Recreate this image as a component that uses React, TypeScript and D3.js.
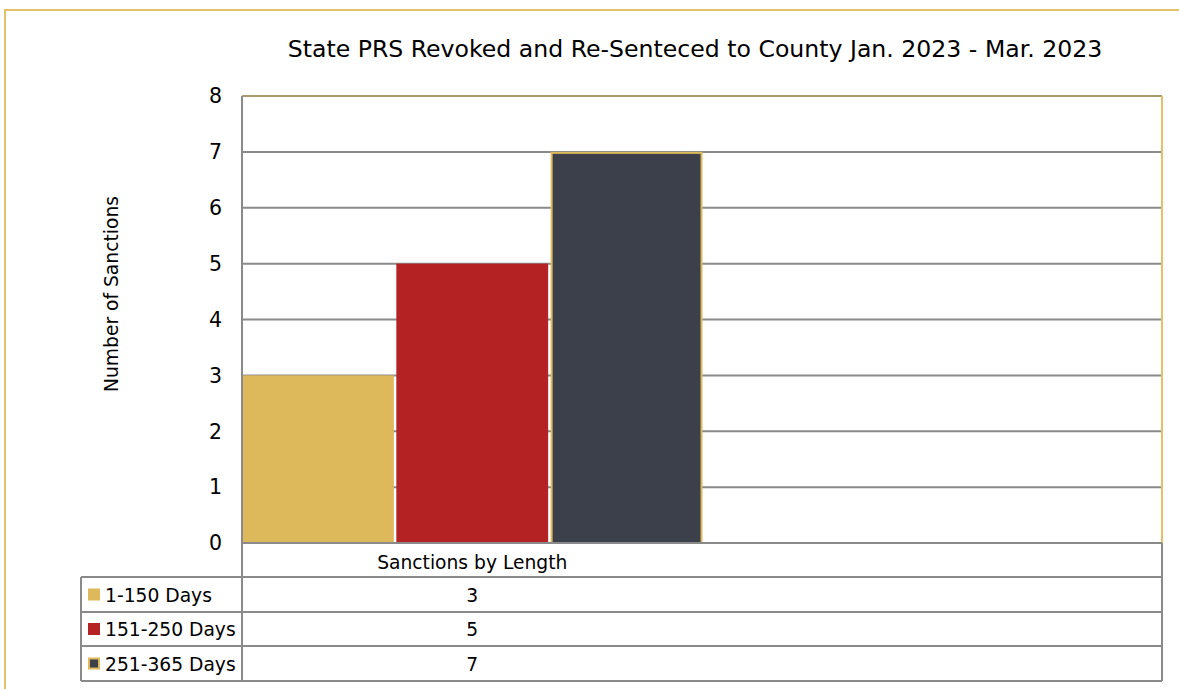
import React from "react";
import * as d3 from "d3";

const TITLE = "State PRS Revoked and Re-Senteced to County Jan. 2023 - Mar. 2023";
const Y_LABEL = "Number of Sanctions";
const CATEGORY = "Sanctions by Length";
const SERIES = ["1-150 Days", "151-250 Days", "251-365 Days"];
const VALUES = [3, 5, 7];
const COLORS = ["#DDB95C", "#B52224", "#3C404B"];
const Y_TICKS = [0, 1, 2, 3, 4, 5, 6, 7, 8];

const W = 1179;
const H = 689;
const PL = 242;
const PR = 1162;
const PT = 96;
const PB = 543;
const GROUP_END = 702.5;
const ROWS = [543, 577, 612, 646, 681];
const TABLE_LEFT = 81;
const FONT = "Tahoma, 'DejaVu Sans', Verdana, sans-serif";
const GRID = "#8a8a8a";
const GOLD = "#E3C06A";

export default function App() {
  const y = d3.scaleLinear().domain([0, 8]).range([PB, PT]);
  const x = d3.scaleBand<string>().domain(SERIES).range([PL, GROUP_END]).paddingInner(0.016);
  const groupCenter = (PL + GROUP_END) / 2;

  return (
    <svg width={W} height={H} style={{ position: "absolute", left: 0, top: 0, background: "#fff" }}>
      {/* outer frame */}
      <rect x={5} y={10} width={W + 20} height={H + 20} fill="#fff" stroke={GOLD} strokeWidth={2} />

      <text x={695} y={57} textAnchor="middle" fontFamily={FONT} fontSize={23.6} fill="#000">
        {TITLE}
      </text>

      {/* gridlines */}
      {Y_TICKS.filter((t) => t > 0 && t < 8).map((t) => (
        <line key={t} x1={PL} x2={PR} y1={y(t)} y2={y(t)} stroke={GRID} strokeWidth={2} />
      ))}
      {/* plot top border */}
      <line x1={PL} x2={PR} y1={y(8)} y2={y(8)} stroke="#A89A6C" strokeWidth={2} />
      {/* plot right border */}
      <line x1={PR} x2={PR} y1={y(8)} y2={PB} stroke={GOLD} strokeWidth={2} />

      {/* bars */}
      {SERIES.map((s, i) => {
        const bx = x(s) as number;
        const bw = x.bandwidth();
        const isLast = i === SERIES.length - 1;
        return (
          <rect
            key={s}
            x={isLast ? bx + 1 : bx}
            y={isLast ? y(VALUES[i]) + 1 : y(VALUES[i])}
            width={isLast ? bw - 2 : bw}
            height={isLast ? PB - y(VALUES[i]) - 1 : PB - y(VALUES[i])}
            fill={COLORS[i]}
            stroke={isLast ? "#DDB95C" : "none"}
            strokeWidth={2}
          />
        );
      })}

      {/* y axis line */}
      <line x1={PL} x2={PL} y1={y(8)} y2={ROWS[ROWS.length - 1]} stroke={GRID} strokeWidth={2} />

      {/* y tick labels */}
      {Y_TICKS.map((t) => (
        <text key={t} x={222} y={y(t) + 7.3} textAnchor="end" fontFamily={FONT} fontSize={20.5} fill="#000">
          {t}
        </text>
      ))}

      {/* y label */}
      <text
        transform={`translate(118,294) rotate(-90)`}
        textAnchor="middle"
        fontFamily={FONT}
        fontSize={18.7}
        fill="#000"
      >
        {Y_LABEL}
      </text>

      {/* data table */}
      <line x1={PL} x2={PR} y1={ROWS[0]} y2={ROWS[0]} stroke={GRID} strokeWidth={2} />
      {ROWS.slice(1).map((r) => (
        <line key={r} x1={TABLE_LEFT} x2={PR} y1={r} y2={r} stroke={GRID} strokeWidth={2} />
      ))}
      <line x1={TABLE_LEFT} x2={TABLE_LEFT} y1={ROWS[1]} y2={ROWS[ROWS.length - 1]} stroke={GRID} strokeWidth={2} />
      <line x1={PR} x2={PR} y1={ROWS[0]} y2={ROWS[ROWS.length - 1]} stroke={GRID} strokeWidth={2} />

      <text x={groupCenter} y={ROWS[0] + 25.5} textAnchor="middle" fontFamily={FONT} fontSize={18.7} fill="#000">
        {CATEGORY}
      </text>

      {SERIES.map((s, i) => {
        const top = ROWS[i + 1];
        const bottom = ROWS[i + 2];
        const mid = (top + bottom) / 2;
        const isLast = i === SERIES.length - 1;
        return (
          <g key={s}>
            <rect
              x={isLast ? 89 : 88}
              y={mid - 6 + (isLast ? 1 : 0)}
              width={isLast ? 10 : 12}
              height={isLast ? 10 : 12}
              fill={COLORS[i]}
              stroke={isLast ? "#DDB95C" : "none"}
              strokeWidth={2}
            />
            <text x={105} y={mid + 7} fontFamily={FONT} fontSize={18.7} fill="#000">
              {s}
            </text>
            <text x={groupCenter} y={mid + 7} textAnchor="middle" fontFamily={FONT} fontSize={18.7} fill="#000">
              {VALUES[i]}
            </text>
          </g>
        );
      })}
    </svg>
  );
}
